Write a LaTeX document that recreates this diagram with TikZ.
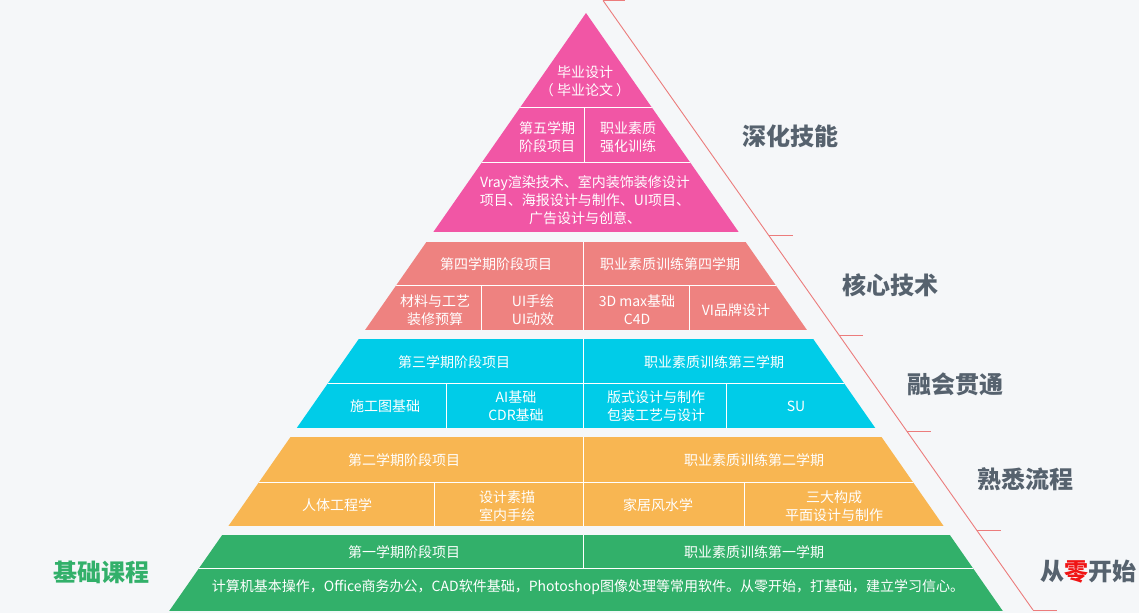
\documentclass[tikz,border=0pt]{standalone}
\usepackage{fontspec}
\setmainfont{Noto Sans CJK SC}
\usetikzlibrary{positioning}

\definecolor{bgc}{RGB}{245,247,249}
\definecolor{pinkc}{RGB}{241,86,165}
\definecolor{salmonc}{RGB}{238,130,128}
\definecolor{cyanc}{RGB}{0,204,232}
\definecolor{orangec}{RGB}{248,182,82}
\definecolor{greenc}{RGB}{50,176,106}
\definecolor{labelc}{RGB}{86,98,110}
\definecolor{linec}{RGB}{236,124,124}
\definecolor{zeroc}{RGB}{240,20,20}

\tikzset{
  cell/.style={text=white, font=\fontsize{14}{18}\selectfont, align=center, inner sep=0pt},
  goal/.style={text=labelc, font=\fontsize{24}{28}\selectfont\bfseries, inner sep=0pt},
  divider/.style={draw=white, line width=1pt},
  redline/.style={draw=linec, line width=0.9pt}
}

\begin{document}
\begin{tikzpicture}[x=1pt,y=-1pt]
\fill[bgc] (0,0) rectangle (1139,613);
\useasboundingbox (0,0) rectangle (1139,613);

% pyramid tiers
\begin{scope}
\clip (586,13) -- (1004.2,613) -- (167.8,613) -- cycle;
\fill[pinkc] (0,0) rectangle (1139,232);
\fill[salmonc] (0,242) rectangle (1139,330);
\fill[cyanc] (0,339) rectangle (1139,428);
\fill[orangec] (0,437) rectangle (1139,526);
\fill[greenc] (0,535) rectangle (1139,611);
% white dividers
\draw[divider] (0,107) -- (1139,107);
\draw[divider] (0,162) -- (1139,162);
\draw[divider] (584,107) -- (584,162);
\draw[divider] (0,285) -- (1139,285);
\draw[divider] (583,242) -- (583,330);
\draw[divider] (481,285) -- (481,330);
\draw[divider] (689,285) -- (689,330);
\draw[divider] (0,383) -- (1139,383);
\draw[divider] (583,339) -- (583,428);
\draw[divider] (446,383) -- (446,428);
\draw[divider] (726,383) -- (726,428);
\draw[divider] (0,482) -- (1139,482);
\draw[divider] (583,437) -- (583,526);
\draw[divider] (434,482) -- (434,526);
\draw[divider] (744,482) -- (744,526);
\draw[divider] (0,568) -- (1139,568);
\draw[divider] (583,535) -- (583,568);
\end{scope}

% red guide line
\coordinate (top) at (603,0.5);
\coordinate (bot) at (1033,610);
\draw[redline] (top) -- (bot);
\draw[redline] (top) -- ++(22,0);
\draw[redline] (768.7,235) -- ++(24,0);
\draw[redline] (839,335) -- ++(24,0);
\draw[redline] (906.9,431) -- ++(24,0);
\draw[redline] (976.6,530) -- ++(24,0);
\draw[redline] (bot) -- ++(24,0);

% tier 5 (top)
\node[cell] (grad) at (585,81) {毕业设计\\（ 毕业论文 ）};
\node[cell] (term5) at (547,137) {第五学期\\阶段项目};
\node[cell] (skill5) at (628,137) {职业素质\\强化训练};
\node[cell] (vray) at (585,200) {Vray渲染技术、室内装饰装修设计\\项目、海报设计与制作、UI项目、\\广告设计与创意、};

% tier 4
\node[cell] (term4) at (496,264) {第四学期阶段项目};
\node[cell] (skill4) at (670,264) {职业素质训练第四学期};
\node[cell] (mat) at (435,310) {材料与工艺\\装修预算};
\node[cell] (ui) at (533,310) {UI手绘\\UI动效};
\node[cell] (max) at (637,310) {3D max基础\\C4D};
\node[cell] (vi) at (736,310) {VI品牌设计};

% tier 3
\node[cell] (term3) at (454,362) {第三学期阶段项目};
\node[cell] (skill3) at (714,362) {职业素质训练第三学期};
\node[cell] (draft) at (385,406) {施工图基础};
\node[cell] (ai) at (516,406) {AI基础\\CDR基础};
\node[cell] (layout) at (656,406) {版式设计与制作\\包装工艺与设计};
\node[cell] (su) at (796,406) {SU};

% tier 2
\node[cell] (term2) at (404,460) {第二学期阶段项目};
\node[cell] (skill2) at (754,460) {职业素质训练第二学期};
\node[cell] (ergo) at (337,505) {人体工程学};
\node[cell] (sketch) at (507,506) {设计素描\\室内手绘};
\node[cell] (fengshui) at (658,505) {家居风水学};
\node[cell] (comp) at (834,506) {三大构成\\平面设计与制作};

% tier 1
\node[cell] (term1) at (404,552) {第一学期阶段项目};
\node[cell] (skill1) at (754,552) {职业素质训练第一学期};
\node[cell] (basic) at (588,587) {计算机基本操作，Office商务办公，CAD软件基础，Photoshop图像处理等常用软件。从零开始，打基础，建立学习信心。};

% stage labels
\node[goal] (deep) at (790,136) {深化技能};
\node[goal] (core) at (890,285) {核心技术};
\node[goal] (merge) at (955,384) {融会贯通};
\node[goal] (flow) at (1025,479) {熟悉流程};
\node[goal] (zero) at (1088,572) {从\textcolor{zeroc}{零}开始};
\node[goal, text=greenc] (base) at (101,572) {基础课程};
\end{tikzpicture}
\end{document}
